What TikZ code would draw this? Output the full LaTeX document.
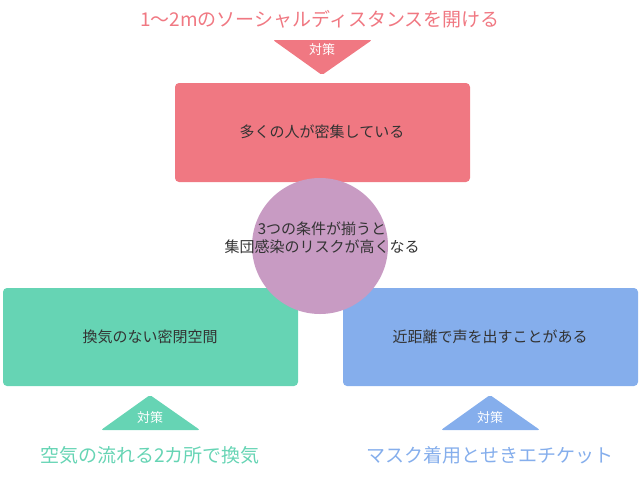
\documentclass[tikz,border=0pt]{standalone}
\usepackage{fontspec}
\setmainfont{Noto Sans CJK JP}
\begin{document}
\begin{tikzpicture}[x=1pt,y=-1pt,
  box/.style={rounded corners=4pt,draw=none},
  lbl/.style={font=\fontsize{15}{18}\selectfont,text=black!80},
  tag/.style={font=\fontsize{13}{15}\selectfont,text=white},
  big/.style={font=\fontsize{19}{22}\selectfont}]
\definecolor{cpink}{HTML}{F07882}
\definecolor{cgreen}{HTML}{66D4B4}
\definecolor{cblue}{HTML}{85AEEC}
\definecolor{cpurple}{HTML}{C89BC3}
\useasboundingbox (0,0) rectangle (640,480);
% boxes
\fill[box,cpink] (175,83) rectangle (470,182);
\fill[box,cgreen] (3,288) rectangle (298,386);
\fill[box,cblue] (343,288) rectangle (638,386);
\fill[cpurple] (320,246) circle (68);
\node[lbl] (top) at (322,132) {多くの人が密集している};
\node[lbl] (left) at (150,337) {換気のない密閉空間};
\node[lbl] (right) at (490,337) {近距離で声を出すことがある};
\node[lbl,align=center] (mid) at (322,238) {3つの条件が揃うと\\集団感染のリスクが高くなる};
% top tag
\fill[cpink,rounded corners=2pt] (273,40) -- (372,40) -- (322,75) -- cycle;
\node[tag] (t1) at (322,50) {対策};
\node[big,text=cpink] (h1) at (320,19) {1～2mのソーシャルディスタンスを開ける};
% bottom tags
\fill[cgreen,rounded corners=2pt] (101,430) -- (200,430) -- (150,395) -- cycle;
\node[tag] (t2) at (150,418) {対策};
\node[big,text=cgreen] (h2) at (150,455) {空気の流れる2カ所で換気};
\fill[cblue,rounded corners=2pt] (441,430) -- (540,430) -- (490,395) -- cycle;
\node[tag] (t3) at (490,418) {対策};
\node[big,text=cblue] (h3) at (490,455) {マスク着用とせきエチケット};
\end{tikzpicture}
\end{document}
